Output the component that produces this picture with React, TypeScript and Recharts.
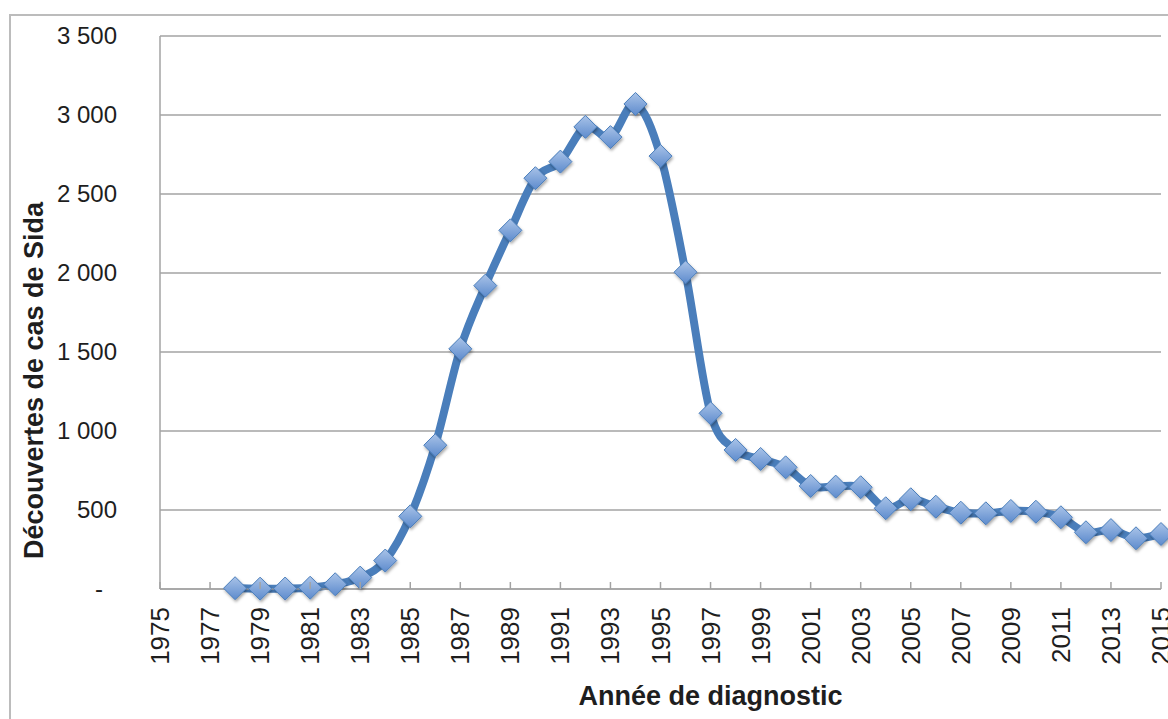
import { LineChart, Line, XAxis, YAxis, CartesianGrid } from "recharts";

// Découvertes de cas de Sida par année de diagnostic
const years = [
  1978, 1979, 1980, 1981, 1982, 1983, 1984, 1985, 1986, 1987, 1988, 1989, 1990,
  1991, 1992, 1993, 1994, 1995, 1996, 1997, 1998, 1999, 2000, 2001, 2002, 2003,
  2004, 2005, 2006, 2007, 2008, 2009, 2010, 2011, 2012, 2013, 2014, 2015,
];
const cases = [
  5, 2, 3, 8, 30, 72, 180, 460, 910, 1520, 1920, 2270, 2600, 2705, 2925, 2860,
  3070, 2740, 2005, 1112, 880, 823, 770, 652, 648, 644, 511, 568, 521, 483, 479,
  494, 489, 454, 359, 373, 321, 348,
];
const yearTicks = [
  1975, 1977, 1979, 1981, 1983, 1985, 1987, 1989, 1991, 1993, 1995, 1997, 1999,
  2001, 2003, 2005, 2007, 2009, 2011, 2013, 2015,
];
const caseTicks = [0, 500, 1000, 1500, 2000, 2500, 3000, 3500];

const data = years.map((year, i) => ({ year, cases: cases[i] }));

const FONT = "'Liberation Sans', Arial, Helvetica, sans-serif";
const GRID = "#a3a3a3";
const TEXT = "#1e1e1e";
const BLUE = "#4a7ebb";

const fmt = (v: number) =>
  v === 0
    ? "-"
    : v >= 1000
    ? `${Math.floor(v / 1000)} ${String(v % 1000).padStart(3, "0")}`
    : String(v);

// Excel-like smoothed line (Catmull-Rom style bezier through the points)
const excelCurve = (context: any) => {
  let pts: number[][] = [];
  return {
    areaStart() {},
    areaEnd() {},
    lineStart() {
      pts = [];
    },
    point(x: number, y: number) {
      pts.push([+x, +y]);
    },
    lineEnd() {
      if (!pts.length) return;
      context.moveTo(pts[0][0], pts[0][1]);
      for (let i = 0; i < pts.length - 1; i++) {
        const p0 = pts[i - 1] || pts[i];
        const p1 = pts[i];
        const p2 = pts[i + 1];
        const p3 = pts[i + 2] || p2;
        context.bezierCurveTo(
          p1[0] + (p2[0] - p0[0]) / 6,
          p1[1] + (p2[1] - p0[1]) / 6,
          p2[0] - (p3[0] - p1[0]) / 6,
          p2[1] - (p3[1] - p1[1]) / 6,
          p2[0],
          p2[1]
        );
      }
    },
  };
};

const YearTick = ({ x, y, payload }: any) => (
  <g>
    <line x1={x} x2={x} y1={y} y2={y - 7} stroke={GRID} strokeWidth={1.5} />
    <text
      x={0}
      y={0}
      transform={`translate(${x + 9},${y + 18}) rotate(-90)`}
      textAnchor="end"
      fontSize={26}
      fontFamily={FONT}
      fill={TEXT}
    >
      {payload.value}
    </text>
  </g>
);

const CaseTick = ({ x, y, payload }: any) => (
  <text
    x={payload.value === 0 ? x - 14 : x}
    y={y}
    dy="0.35em"
    textAnchor="end"
    fontSize={24}
    fontFamily={FONT}
    fill={TEXT}
  >
    {fmt(payload.value)}
  </text>
);

const Diamond = ({ cx, cy, index }: any) => {
  if (cx == null || cy == null) return <g key={index} />;
  const r = 11.5;
  return (
    <polygon
      key={index}
      points={`${cx},${cy - r} ${cx + r},${cy} ${cx},${cy + r} ${cx - r},${cy}`}
      fill="url(#diamondFill)"
      stroke="#4a7ebb"
      strokeWidth={1}
      filter="url(#diamondShadow)"
    />
  );
};

export default function App() {
  return (
    <div
      style={{
        position: "absolute",
        left: 0,
        top: 0,
        width: 1168,
        height: 719,
        overflow: "hidden",
        background: "#fff",
      }}
    >
      <svg width={0} height={0} style={{ position: "absolute" }}>
        <defs>
          <linearGradient id="diamondFill" x1="0" y1="0" x2="0" y2="1">
            <stop offset="0%" stopColor="#a9c3e8" />
            <stop offset="100%" stopColor="#5d8bcd" />
          </linearGradient>
          <filter id="diamondShadow" x="-50%" y="-50%" width="200%" height="200%">
            <feDropShadow dx="1" dy="2" stdDeviation="1.5" floodColor="#000" floodOpacity="0.35" />
          </filter>
        </defs>
      </svg>
      <div
        style={{
          position: "absolute",
          left: 9,
          top: 14,
          width: 1300,
          height: 900,
          border: "2px solid #bcbcbc",
        }}
      />
      <div style={{ position: "absolute", left: 0, top: 0 }}>
        <LineChart
          width={1168}
          height={719}
          data={data}
          margin={{ top: 36, right: 7, left: 0, bottom: 0 }}
        >
          <CartesianGrid vertical={false} stroke={GRID} strokeWidth={1.5} />
          <XAxis
            dataKey="year"
            type="number"
            domain={[1975, 2015]}
            ticks={yearTicks}
            interval={0}
            height={130}
            tickSize={0}
            tickMargin={0}
            tickLine={false}
            axisLine={{ stroke: GRID, strokeWidth: 1.5 }}
            tick={<YearTick />}
            label={{
              content: ({ viewBox }: any) => (
                <text
                  x={viewBox.x + viewBox.width / 2 + 50}
                  y={viewBox.y + 116}
                  textAnchor="middle"
                  fontSize={27}
                  fontWeight="bold"
                  fontFamily={FONT}
                  fill={TEXT}
                >
                  Année de diagnostic
                </text>
              ),
            }}
          />
          <YAxis
            type="number"
            domain={[0, 3500]}
            ticks={caseTicks}
            interval={0}
            width={160}
            tickSize={0}
            tickMargin={43}
            tickLine={false}
            axisLine={{ stroke: GRID, strokeWidth: 1.5 }}
            tick={<CaseTick />}
            label={{
              content: ({ viewBox }: any) => {
                const cx = 43;
                const cy = viewBox.y + viewBox.height / 2 + 68;
                return (
                  <text
                    x={0}
                    y={0}
                    transform={`translate(${cx},${cy}) rotate(-90)`}
                    textAnchor="middle"
                    fontSize={27}
                    fontWeight="bold"
                    fontFamily={FONT}
                    fill={TEXT}
                  >
                    Découvertes de cas de Sida
                  </text>
                );
              },
            }}
          />
          <Line
            dataKey="cases"
            type={excelCurve as any}
            stroke={BLUE}
            strokeWidth={8}
            dot={(p: any) => <Diamond key={p.index} {...p} />}
            activeDot={false}
            isAnimationActive={false}
          />
        </LineChart>
      </div>
    </div>
  );
}
